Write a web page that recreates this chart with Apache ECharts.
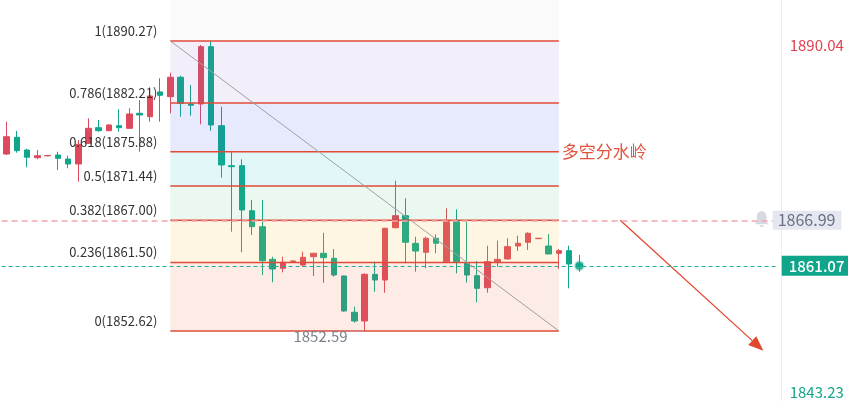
<!DOCTYPE html>
<html><head><meta charset="utf-8">
<script src="https://cdn.jsdelivr.net/npm/echarts@6/dist/echarts.min.js"></script>
<style>html,body{margin:0;padding:0;background:#fff}#c{width:848px;height:401px}</style>
</head><body><div id="c"></div>
<script>
// ---------- data ----------
const categories = Array.from({length: 76}, (_, i) => 'K' + (i + 1));
const opens  = [1875.59,1877.76,1876.11,1875.11,1875.35,1875.46,1874.94,1874.30,1876.98,1879.01,1878.62,1879.27,1878.93,1880.88,1880.44,1883.65,1883.04,1885.56,1882.09,1882.09,1889.53,1879.27,1874.08,1874.08,1868.23,1866.15,1861.92,1860.75,1861.60,1861.18,1862.26,1862.70,1862.05,1859.75,1855.04,1853.91,1859.97,1859.23,1866.02,1867.58,1863.99,1862.83,1864.65,1861.61,1866.80,1861.40,1859.79,1858.23,1861.61,1861.96,1863.65,1864.13,1864.60,1863.65,1862.70,1863.04,1861.30];
const closes = [1877.84,1876.03,1875.17,1875.37,1875.40,1875.03,1874.30,1876.85,1878.93,1878.62,1879.36,1879.01,1880.79,1880.66,1883.13,1883.22,1885.56,1882.18,1881.92,1889.53,1879.36,1874.17,1873.95,1868.32,1866.15,1861.74,1860.66,1861.53,1861.70,1862.18,1862.70,1862.13,1859.88,1855.21,1853.91,1859.97,1859.23,1865.95,1867.58,1864.13,1862.99,1864.65,1864.00,1866.80,1861.61,1859.88,1858.15,1861.61,1861.92,1863.56,1864.00,1865.30,1864.65,1862.61,1863.04,1861.31,1861.07];
const lows   = [1875.50,1875.76,1873.87,1874.91,1875.30,1873.52,1873.74,1872.00,1876.90,1878.49,1878.55,1878.49,1878.90,1875.89,1879.79,1879.79,1880.88,1880.44,1880.57,1879.45,1878.62,1872.52,1865.50,1862.83,1865.08,1859.88,1858.93,1860.23,1861.50,1860.96,1859.75,1858.88,1859.66,1855.12,1853.69,1852.59,1857.71,1857.58,1865.95,1861.40,1860.31,1860.75,1862.70,1861.50,1860.10,1858.90,1856.34,1857.58,1860.96,1861.90,1863.00,1863.13,1864.55,1862.60,1860.66,1858.15,1860.30];
const highs  = [1879.79,1878.58,1876.28,1876.11,1875.45,1875.89,1875.37,1877.41,1880.23,1880.01,1879.45,1881.40,1881.53,1882.61,1884.26,1885.43,1886.15,1885.76,1884.56,1889.75,1890.27,1881.74,1875.82,1874.91,1869.62,1869.62,1862.26,1862.26,1861.80,1862.91,1862.75,1865.37,1863.26,1859.80,1855.76,1860.10,1861.61,1866.00,1872.13,1869.84,1864.85,1864.85,1865.16,1868.54,1868.41,1866.80,1861.70,1863.69,1864.34,1864.65,1864.98,1865.43,1864.70,1865.21,1863.26,1863.69,1862.50];

const fibRatios = ['1', '0.786', '0.618', '0.5', '0.382', '0.236', '0'];
const fibPrices = [1890.27, 1882.21, 1875.88, 1871.44, 1867.00, 1861.50, 1852.62];
const fibRange  = [16, 54];            // start / end candle index of the retracement
const watershedText = '多空分水岭';

const alertPrice = 1866.99;
const lastPrice  = 1861.07;
const lastIndex  = 56;
const axisHigh   = 1890.04;
const axisLow    = 1843.23;
const lowIndex   = 35;
const lowPrice   = 1852.59;
const arrowFrom  = [60, 1866.99];
const arrowTo    = [74, 1850.05];

// ---------- styles ----------
const RED = '#dd4a5c', GREEN = '#0fa68a';
const FONT = '"Noto Sans CJK SC", "Noto Sans", sans-serif';
const fibFills = ['rgba(0,0,0,0.018)', 'rgba(130,100,220,0.10)', 'rgba(75,105,235,0.14)',
                  'rgba(30,190,200,0.13)', 'rgba(60,190,120,0.11)', 'rgba(250,190,60,0.14)',
                  'rgba(240,110,70,0.14)'];

const kData = opens.map((o, i) => [o, closes[i], lows[i], highs[i]]);

function renderFib(params, api) {
  const i = api.value(0);
  const cs = params.coordSys;
  const p0 = api.coord([fibRange[0], fibPrices[i]]);
  const p1 = api.coord([fibRange[1], fibPrices[i]]);
  const yTop = i === 0 ? cs.y : api.coord([fibRange[0], fibPrices[i - 1]])[1];
  return {
    type: 'group',
    children: [
      {type: 'rect', z2: 0, shape: {x: p0[0], y: yTop, width: p1[0] - p0[0], height: p0[1] - yTop},
       style: {fill: fibFills[i]}},
      {type: 'line', z2: 10, shape: {x1: p0[0], y1: p0[1], x2: p1[0], y2: p1[1]},
       style: {stroke: '#e04b38', lineWidth: 1.5}},
      {type: 'text', z2: 10, x: p0[0] - 13, y: p0[1] - 10,
       style: {text: fibRatios[i] + '(' + fibPrices[i].toFixed(2) + ')', align: 'right',
               verticalAlign: 'middle', fill: '#333', font: '13px ' + FONT}}
    ]
  };
}

function renderNotes(params, api) {
  const cs = params.coordSys;
  const a = api.coord([fibRange[0], fibPrices[0]]);
  const b = api.coord([fibRange[1], fibPrices[fibPrices.length - 1]]);
  const w = api.coord([fibRange[1], fibPrices[2]]);
  const lo = api.coord([lowIndex, lowPrice]);
  const s = api.coord(arrowFrom), e = api.coord(arrowTo);
  const dx = e[0] - s[0], dy = e[1] - s[1], L = Math.hypot(dx, dy);
  const ux = dx / L, uy = dy / L, hl = 15, hw = 6;
  const bx = e[0] - ux * hl, by = e[1] - uy * hl;
  const al = api.coord([fibRange[0], alertPrice]);
  const bellX = cs.x + cs.width - 24;
  const axX = cs.x + cs.width + 11;
  const hi = api.coord([fibRange[0], axisHigh]);
  const lw = api.coord([fibRange[0], axisLow]);
  return {
    type: 'group',
    children: [
      {type: 'line', shape: {x1: a[0], y1: a[1], x2: b[0], y2: b[1]},
       style: {stroke: '#a0a0a0', lineWidth: 1}},
      {type: 'text', x: w[0] + 3, y: w[1],
       style: {text: watershedText, align: 'left', verticalAlign: 'middle', fill: '#e2533d', font: '17px ' + FONT}},
      {type: 'line', shape: {x1: lo[0] - 15, y1: lo[1], x2: lo[0] - 1, y2: lo[1]},
       style: {stroke: '#a3a8b2', lineWidth: 1, lineDash: [2, 2]}},
      {type: 'text', x: lo[0] - 17, y: lo[1] + 5,
       style: {text: lowPrice.toFixed(2), align: 'right', verticalAlign: 'middle', fill: '#7b808c', font: '15px ' + FONT}},
      {type: 'line', shape: {x1: s[0], y1: s[1], x2: bx, y2: by},
       style: {stroke: '#e0482e', lineWidth: 1.3}},
      {type: 'polygon', shape: {points: [[e[0], e[1]], [bx - uy * hw, by + ux * hw], [bx + uy * hw, by - ux * hw]]},
       style: {fill: '#e0482e'}},
      {type: 'path', shape: {pathData: 'M7 0C4 0 2.5 2.5 2.5 5.5L2.5 10L0.5 12.5L13.5 12.5L11.5 10L11.5 5.5C11.5 2.5 10 0 7 0ZM5 13.5A2 2 0 0 0 9 13.5Z',
        x: bellX, y: al[1] - 9, width: 14, height: 16, layout: 'cover'},
       style: {fill: '#d6d9e0'}},
      {type: 'text', x: axX, y: hi[1] + 3,
       style: {text: axisHigh.toFixed(2), align: 'left', verticalAlign: 'middle', fill: '#e0404f', font: '15px ' + FONT}},
      {type: 'text', x: axX, y: Math.min(lw[1], cs.y + cs.height) - 9,
       style: {text: axisLow.toFixed(2), align: 'left', verticalAlign: 'middle', fill: '#14a58a', font: '15px ' + FONT}}
    ]
  };
}

const chart = echarts.init(document.getElementById('c'), null, {renderer: 'canvas'});
chart.setOption({
  animation: false,
  backgroundColor: '#fff',
  grid: {left: 1.6, right: 69.3, top: 0, bottom: 0},
  xAxis: {type: 'category', data: categories, boundaryGap: true, show: false},
  yAxis: {type: 'value', position: 'right', offset: 3, min: 1843.52, max: 1895.59, scale: true,
          axisLine: {show: true, lineStyle: {color: '#eceef3'}}, axisTick: {show: false},
          axisLabel: {show: false}, splitLine: {show: false}},
  series: [
    {type: 'candlestick', data: kData, barWidth: 6, z: 2,
     itemStyle: {color: RED, color0: GREEN, borderColor: RED, borderColor0: GREEN, borderWidth: 1},
     markLine: {silent: true, symbol: ['none', 'none'], animation: false,
       label: {fontFamily: FONT, fontSize: 15},
       data: [
         {yAxis: alertPrice, lineStyle: {color: '#f2a6ae', type: [6, 4], width: 1.5},
          label: {position: 'end', formatter: alertPrice.toFixed(2), color: '#6b7080', backgroundColor: '#e4e7ef',
                  padding: [2, 6, 1, 5], distance: 0, offset: [-6, 0], fontSize: 16}},
         {yAxis: lastPrice, lineStyle: {color: '#22b39b', type: [4, 3], width: 1},
          label: {position: 'end', formatter: lastPrice.toFixed(2), color: '#fff', backgroundColor: '#0ea58b',
                  padding: [3, 6, 2, 7], distance: 3, fontSize: 15, fontWeight: 500}}
       ]}
    },
    {type: 'custom', z: 3, silent: true, renderItem: renderFib,
     data: fibPrices.map((p, i) => [i])},
    {type: 'custom', z: 4, silent: true, renderItem: renderNotes, data: [[0]]},
    {type: 'scatter', z: 5, silent: true, data: [[lastIndex, lastPrice]], symbolSize: 8,
     itemStyle: {color: GREEN, borderColor: 'rgba(15,166,138,0.3)', borderWidth: 3}}
  ]
});
</script>
</body></html>
